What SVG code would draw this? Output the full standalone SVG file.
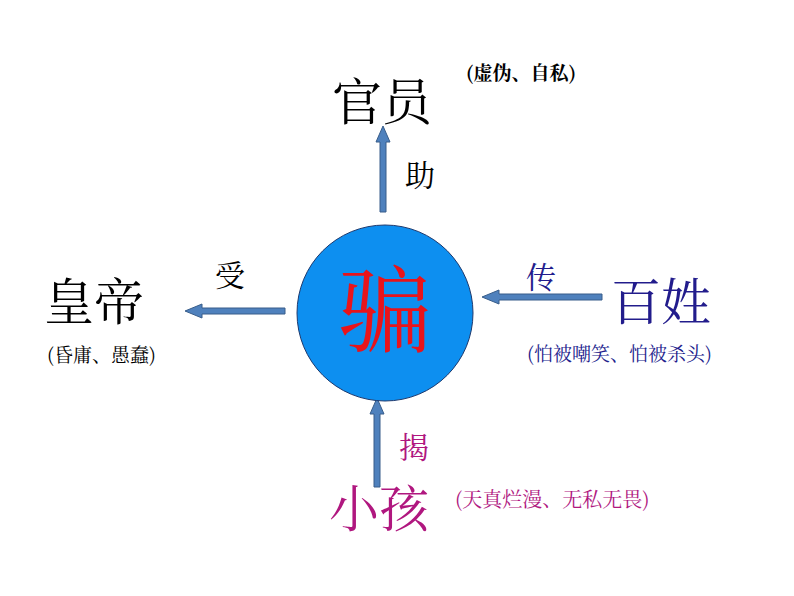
<svg xmlns="http://www.w3.org/2000/svg" width="794" height="596" viewBox="0 0 794 596">
<style>
text{font-family:"Noto Serif CJK SC","Noto Sans CJK SC",serif}
.big{font-size:50px}
.mid{font-size:30px}
.sm{font-size:19px}
.arrow{fill:#4f81bd;stroke:#385d8a;stroke-width:1}
</style>
<rect width="794" height="596" fill="#fff"/>
<g id="connectors">
<path class="arrow" d="M380 212 V142 H376 L383 126 L390 142 H386 V212 Z"/>
<path class="arrow" d="M285 308 H202 V304 L185 311 L202 318 V314 H285 Z"/>
<path class="arrow" d="M602 294 H499 V290 L482 297 L499 304 V300 H602 Z"/>
<path class="arrow" d="M374 487 V414 H370 L377 398 L384 414 H380 V487 Z"/>
</g>
<g id="center"><circle cx="385" cy="313" r="88" fill="#0d8ff0" stroke="#1f3a6e" stroke-width="1"/>
<text x="385" y="345" font-size="94" fill="#e8141b" text-anchor="middle">骗</text></g>
<g id="guanyuan"><text class="big" x="332" y="120">官员</text>
<text x="466" y="80" font-size="19" font-weight="bold" font-family="Liberation Sans, Noto Sans CJK SC, sans-serif">(虚伪、自私)</text>
<text class="mid" x="405" y="186">助</text></g>
<g id="huangdi"><text class="big" x="44" y="320">皇帝</text>
<text class="sm" x="47" y="362">(昏庸、愚蠢)</text>
<text class="mid" x="215" y="286">受</text></g>
<g id="baixing" fill="#221c8c"><text class="big" x="611" y="320">百姓</text>
<text class="sm" x="527" y="361">(怕被嘲笑、怕被杀头)</text>
<text class="mid" x="526" y="288">传</text></g>
<g id="xiaohai" fill="#b0177f"><text class="big" x="329" y="527">小孩</text>
<text class="sm" x="455" y="507" style="font-size:20px">(天真烂漫、无私无畏)</text>
<text class="mid" x="399" y="458">揭</text></g>
</svg>
